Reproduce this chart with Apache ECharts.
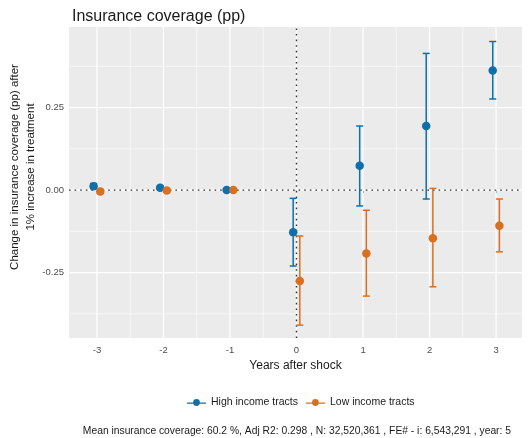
<!DOCTYPE html>
<html>
<head>
<meta charset="utf-8">
<script src="https://cdn.jsdelivr.net/npm/echarts@6/dist/echarts.min.js"></script>
<style>html,body{margin:0;padding:0;background:#fff}#c{width:528px;height:438px}</style>
</head>
<body>
<div id="c"></div>
<script>
// ---- data ----
var years = [-3, -2, -1, 0, 1, 2, 3];
var highEst  = [0.012, 0.007, 0.000, -0.128, 0.074, 0.194, 0.362];
var highLow  = [0.004, 0.002, -0.003, -0.230, -0.048, -0.027, 0.276];
var highHigh = [0.020, 0.012, 0.003, -0.025, 0.194, 0.414, 0.450];
var lowEst   = [-0.004, -0.001, 0.000, -0.275, -0.192, -0.146, -0.108];
var lowLow   = [-0.010, -0.005, -0.003, -0.409, -0.321, -0.293, -0.187];
var lowHigh  = [0.002, 0.003, 0.003, -0.139, -0.061, 0.005, -0.027];
var xTicks = [-3, -2, -1, 0, 1, 2, 3];
var xMinor = [-2.5, -1.5, -0.5, 0.5, 1.5, 2.5];
var yTicks = [-0.25, 0, 0.25];
var yMinor = [-0.375, -0.125, 0.125, 0.375];
var seriesNames = ['High income tracts', 'Low income tracts'];
var caption = 'Mean insurance coverage: 60.2 %, Adj R2: 0.298 , N: 32,520,361 , FE# - i: 6,543,291 , year: 5';

// ---- style ----
var BLUE = '#0F6FAA', ORANGE = '#D9701F';
var DODGE = 0.05;
var XMIN = -3.42, XMAX = 3.39, YMIN = -0.448, YMAX = 0.494;
var FONT = '"Liberation Sans", Arial, sans-serif';

var chart = echarts.init(document.getElementById('c'), null, {renderer: 'canvas'});

function gridRender(params, api) {
  var ch = [];
  function vline(v, w) {
    var a = api.coord([v, YMIN]), b = api.coord([v, YMAX]);
    ch.push({type: 'line', shape: {x1: a[0], y1: a[1], x2: b[0], y2: b[1]}, style: {stroke: '#fff', lineWidth: w}});
  }
  function hline(v, w) {
    var a = api.coord([XMIN, v]), b = api.coord([XMAX, v]);
    ch.push({type: 'line', shape: {x1: a[0], y1: a[1], x2: b[0], y2: b[1]}, style: {stroke: '#fff', lineWidth: w}});
  }
  xMinor.forEach(function (v) { vline(v, 0.6); });
  yMinor.forEach(function (v) { hline(v, 0.6); });
  xTicks.forEach(function (v) { vline(v, 1.2); });
  yTicks.forEach(function (v) { hline(v, 1.2); });
  return {type: 'group', children: ch};
}

function refRender(params, api) {
  var a = api.coord([XMIN, 0]), b = api.coord([XMAX, 0]);
  var c = api.coord([0, YMIN]), d = api.coord([0, YMAX]);
  var st = {stroke: '#333', lineWidth: 1.4, lineDash: [1.6, 4]};
  return {type: 'group', children: [
    {type: 'line', shape: {x1: a[0], y1: a[1], x2: b[0], y2: b[1]}, style: st},
    {type: 'line', shape: {x1: c[0], y1: c[1], x2: d[0], y2: d[1]}, style: st}
  ]};
}

function errRender(color) {
  return function (params, api) {
    var x = api.value(0), lo = api.value(1), hi = api.value(2);
    var p1 = api.coord([x, lo]), p2 = api.coord([x, hi]);
    var hw = 3.5;
    var st = {stroke: color, lineWidth: 1.5};
    return {type: 'group', children: [
      {type: 'line', shape: {x1: p1[0], y1: p1[1], x2: p2[0], y2: p2[1]}, style: st},
      {type: 'line', shape: {x1: p1[0] - hw, y1: p1[1], x2: p1[0] + hw, y2: p1[1]}, style: st},
      {type: 'line', shape: {x1: p2[0] - hw, y1: p2[1], x2: p2[0] + hw, y2: p2[1]}, style: st}
    ]};
  };
}

var highErr = years.map(function (y, i) { return [y - DODGE, highLow[i], highHigh[i]]; });
var lowErr = years.map(function (y, i) { return [y + DODGE, lowLow[i], lowHigh[i]]; });
var highPts = years.map(function (y, i) { return [y - DODGE, highEst[i]]; });
var lowPts = years.map(function (y, i) { return [y + DODGE, lowEst[i]]; });

var iconPath = 'path://M0,4.4 L18,4.4 L18,5.6 L0,5.6 Z M9,1.3 A3.2,3.2 0 1 1 8.99,1.3 Z';

chart.setOption({
  animation: false,
  textStyle: {fontFamily: FONT},
  title: {
    text: 'Insurance coverage (pp)', left: 67, top: 4,
    textStyle: {fontSize: 16, fontWeight: 'normal', color: '#1a1a1a', fontFamily: FONT}
  },
  grid: {left: 69, right: 6, top: 27, bottom: 100, show: true, backgroundColor: '#EBEBEB', borderWidth: 0},
  xAxis: {
    type: 'value', min: XMIN, max: XMAX,
    axisLine: {show: false}, splitLine: {show: false},
    axisTick: {show: true, customValues: xTicks, length: 3, lineStyle: {color: '#333', width: 1}},
    axisLabel: {customValues: xTicks, color: '#4D4D4D', fontSize: 9.5, margin: 7, fontFamily: FONT},
    name: 'Years after shock', nameLocation: 'middle', nameGap: 21,
    nameTextStyle: {fontSize: 12, color: '#1a1a1a', fontFamily: FONT}
  },
  yAxis: {
    type: 'value', min: YMIN, max: YMAX,
    axisLine: {show: false}, splitLine: {show: false},
    axisTick: {show: true, customValues: yTicks, length: 3, lineStyle: {color: '#333', width: 1}},
    axisLabel: {customValues: yTicks, color: '#4D4D4D', fontSize: 9.5, margin: 5, fontFamily: FONT,
      formatter: function (v) { return v.toFixed(2); }}
  },
  legend: {
    data: seriesNames, left: 182, top: 392, itemWidth: 19, itemHeight: 9, itemGap: 8,
    icon: iconPath,
    textStyle: {fontSize: 10.5, color: '#1a1a1a', fontFamily: FONT}
  },
  graphic: [
    {type: 'text', x: 23, y: 167, rotation: Math.PI / 2,
      style: {text: 'Change in insurance coverage (pp) after\n1% increase in treatment',
        fill: '#1a1a1a', align: 'center', verticalAlign: 'middle', lineHeight: 16, font: '11.5px ' + FONT}},
    {type: 'text', right: 17, top: 426,
      style: {text: caption, fill: '#1a1a1a', font: '10.3px ' + FONT}}
  ],
  series: [
    {type: 'custom', silent: true, data: [[0, 0]], renderItem: gridRender, z: 1},
    {type: 'custom', silent: true, data: [[0, 0]], renderItem: refRender, z: 2},
    {type: 'custom', data: highErr, renderItem: errRender(BLUE), z: 3},
    {type: 'custom', data: lowErr, renderItem: errRender(ORANGE), z: 3},
    {type: 'scatter', name: seriesNames[0], data: highPts, symbolSize: 8.5, itemStyle: {color: BLUE, opacity: 1}, z: 4},
    {type: 'scatter', name: seriesNames[1], data: lowPts, symbolSize: 8.5, itemStyle: {color: ORANGE, opacity: 1}, z: 4}
  ]
});
</script>
</body>
</html>
